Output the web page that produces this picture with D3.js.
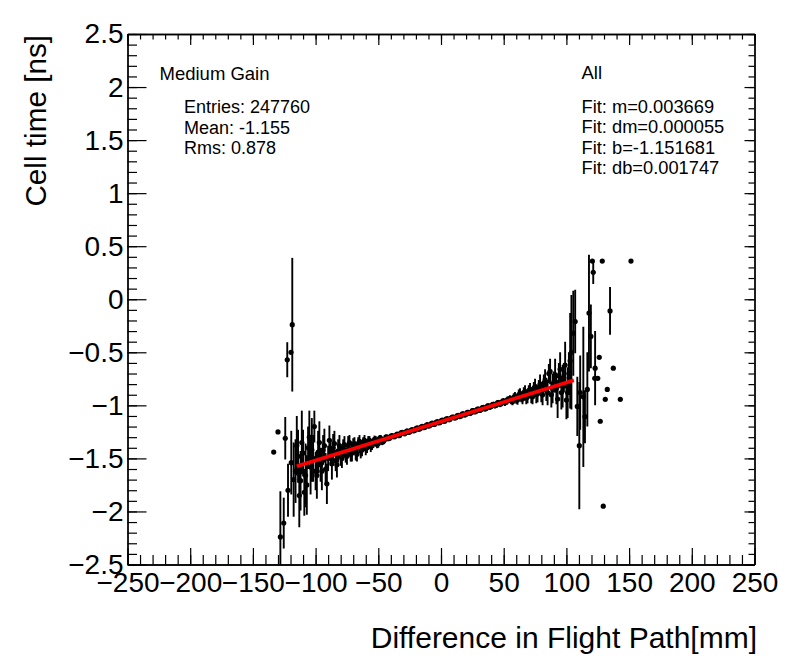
<!DOCTYPE html>
<html><head><meta charset="utf-8">
<script src="https://cdn.jsdelivr.net/npm/d3@7"></script>
<style>body{margin:0;background:#fff}text{font-family:"Liberation Sans",Arial,Helvetica,sans-serif}</style>
</head><body><svg id="c" width="796" height="672"></svg>
<script>
// ---- data ----
const pointX = [
 -133.4,-130,-128.1,-125.4,-124.2,-122.6,-122,-119.6,-118.6,-119.4,-117.5,
 -116,-115,-114,-113,-112,-111,-110,-109,-108,-107,-106,-105,-104,-103,-102,-101,-100,-99,-98,-97,-96,-95,-94,-93,-92,-91,-90,-89,-88,-87,-86,-85,-84,-83,-82,-81,-80,
 -79,-78,-77,-76,-75,-74,-73,-72,-71,-70,-69,-68,-67,-66,-65,-64,-63,-62,-61,-60,-59,-58,-57,-56,-55,-54,-53,-52,-51,-50,-49,-48,-47,-46,
 -45,-44,-43,-42,-41,-40,-39,-38,-37,-36,-35,-34,-33,-32,-31,-30,-29,-28,-27,-26,-25,-24,-23,-22,-21,-20,-19,-18,-17,-16,-15,-14,-13,-12,-11,-10,-9,-8,-7,-6,-5,-4,-3,-2,-1,
 0,1,2,3,4,5,6,7,8,9,10,11,12,13,14,15,16,17,18,19,20,21,22,23,24,25,26,27,28,29,30,31,32,33,34,35,36,37,38,39,40,41,42,43,44,45,46,47,48,49,50,51,52,53,54,
 55,56,57,58,59,60,61,62,63,64,65,66,67,68,69,70,71,72,73,74,75,76,77,78,79,80,81,82,83,84,85,86,87,88,89,90,91,92,93,94,95,96,97,98,99,100,101,102,103,104,105.5,107,
 108.7,110.3,111,113.5,114.8,116.7,118,119.5,121.4,120.7,122.9,122.6,125,126.2,127,128.6,129.4,131,132.6,134.8,137.4,143,151.5
];
const pointY = [
 -1.44,-1.25,-2.24,-2.11,-1.31,-0.57,-1.80,-0.50,-0.24,-1.54,-1.70,
 -1.62,-1.38,-1.48,-1.85,-1.71,-1.35,-1.45,-1.82,-1.66,-1.75,-1.40,-1.30,-1.58,-1.42,-1.50,-1.20,-1.62,-1.66,-1.44,-1.35,-1.56,-1.62,-1.42,-1.38,-1.60,-1.74,-1.50,-1.33,-1.45,-1.55,-1.40,-1.36,-1.52,-1.56,-1.43,-1.38,-1.48,
 -1.50,-1.40,-1.37,-1.47,-1.48,-1.38,-1.35,-1.46,-1.45,-1.37,-1.36,-1.44,-1.46,-1.36,-1.34,-1.43,-1.42,-1.35,-1.33,-1.41,-1.40,-1.34,-1.33,-1.39,-1.38,-1.36,-1.32,-1.33,-1.37,-1.36,-1.31,-1.31,-1.345,-1.34,
 -1.325,-1.300,-1.300,-1.315,-1.310,-1.290,-1.285,-1.295,-1.295,-1.280,-1.270,-1.285,-1.285,-1.260,-1.255,-1.265,-1.268,-1.250,-1.240,-1.255,-1.252,-1.235,-1.228,-1.240,-1.238,-1.220,-1.212,-1.225,-1.222,-1.205,-1.198,-1.210,-1.208,-1.190,-1.182,-1.195,-1.192,-1.175,-1.168,-1.180,-1.178,-1.160,-1.154,-1.165,-1.163,
 -1.145,-1.140,-1.150,-1.150,-1.130,-1.125,-1.135,-1.134,-1.120,-1.110,-1.110,-1.120,-1.115,-1.096,-1.095,-1.106,-1.100,-1.080,-1.080,-1.092,-1.085,-1.066,-1.065,-1.076,-1.070,-1.050,-1.050,-1.062,-1.055,-1.036,-1.035,-1.048,-1.040,-1.022,-1.020,-1.034,-1.030,-1.006,-1.005,-1.018,-1.010,-0.992,-0.990,-1.004,-1.000,-0.976,-0.975,-0.990,-0.985,-0.962,-0.960,-0.976,-0.970,-0.946,-0.945,
 -0.935,-0.96,-0.965,-0.925,-0.915,-0.95,-0.95,-0.90,-0.89,-0.93,-0.94,-0.88,-0.87,-0.93,-0.92,-0.86,-0.85,-0.91,-0.92,-0.84,-0.82,-0.90,-0.89,-0.83,-0.80,-0.88,-0.90,-0.79,-0.76,-0.86,-0.88,-0.70,-0.68,-0.90,-0.84,-0.78,-0.72,-0.84,-0.94,-0.72,-0.66,-0.88,-0.82,-0.74,-0.62,-0.95,-0.88,-0.70,-0.58,-0.50,-0.32,-0.21,
 -1.01,-1.38,-0.88,-0.92,-1.107,-0.85,-0.13,-0.35,0.254,0.36,-0.65,-0.745,-0.745,-0.547,-1.15,0.36,-1.95,-0.943,-0.85,-0.11,-0.65,-0.943,0.36
];
const pointErr = [
 0,0,0.43,0.24,0.20,0.165,0.25,0,0.63,0.30,0.35,
 0.30,0.28,0.25,0.30,0.28,0.30,0.22,0.22,0.30,0.28,0.20,0.25,0.26,0.30,0.22,0.15,0.18,0.22,0.20,0.20,0.16,0.18,0.14,0.16,0.15,0.19,0.12,0.14,0.12,0.15,0.13,0.12,0.10,0.12,0.11,0.10,0.09,
 0.09,0.08,0.08,0.07,0.08,0.09,0.07,0.07,0.08,0.06,0.06,0.08,0.07,0.06,0.06,0.07,0.06,0.05,0.05,0.06,0.05,0.05,0.04,0.05,0.04,0.04,0.035,0.04,0.035,0.04,0.03,0.03,0.03,0.03,
 0.026,0.025,0.024,0.022,0.021,0.020,0.021,0.022,0.019,0.018,0.019,0.020,0.018,0.017,0.018,0.019,0.017,0.016,0.017,0.018,0.016,0.015,0.016,0.017,0.015,0.015,0.016,0.016,0.015,0.014,0.015,0.015,0.014,0.014,0.015,0.015,0.014,0.013,0.014,0.014,0.013,0.013,0.014,0.014,0.013,
 0.013,0.014,0.014,0.013,0.013,0.014,0.014,0.014,0.014,0.015,0.015,0.015,0.014,0.016,0.016,0.016,0.015,0.017,0.017,0.017,0.016,0.018,0.018,0.018,0.017,0.019,0.019,0.019,0.018,0.020,0.020,0.020,0.019,0.021,0.021,0.022,0.020,0.023,0.022,0.023,0.021,0.024,0.024,0.025,0.022,0.026,0.026,0.027,0.024,0.028,0.028,0.029,0.026,0.030,0.030,
 0.03,0.03,0.035,0.04,0.04,0.035,0.045,0.05,0.05,0.04,0.05,0.05,0.06,0.06,0.06,0.05,0.06,0.07,0.07,0.06,0.07,0.08,0.08,0.07,0.09,0.09,0.10,0.08,0.10,0.10,0.12,0.09,0.12,0.12,0.14,0.10,0.16,0.15,0.18,0.12,0.16,0.16,0.20,0.14,0.22,0.18,0.24,0.20,0.45,0.54,0.40,0.30,
 0.28,0.60,0.35,0.66,0.25,0.35,0.55,0.30,0.11,0,0.35,0,0,0,0,0,0,0,0,0.225,0,0,0
];
const fitM = 0.003669, fitB = -1.151681;
const fitRange = [-115, 106];
const xTicks = [-250,-200,-150,-100,-50,0,50,100,150,200,250];
const xTickLabels = ["\u2212250","\u2212200","\u2212150","\u2212100","\u221250","0","50","100","150","200","250"];
const yTicks = [-2.5,-2,-1.5,-1,-0.5,0,0.5,1,1.5,2,2.5];
const yTickLabels = ["\u22122.5","\u22122","\u22121.5","\u22121","\u22120.5","0","0.5","1","1.5","2","2.5"];
const statsLeft = ["Entries: 247760","Mean: -1.155","Rms: 0.878"];
const statsRight = ["Fit: m=0.003669","Fit: dm=0.000055","Fit: b=-1.151681","Fit: db=0.001747"];

// ---- drawing ----
const L=127.5, R=754.5, T=34, B=564.5;
const svg = d3.select("#c");
const x = d3.scaleLinear().domain([-250,250]).range([L,R]);
const y = d3.scaleLinear().domain([-2.5,2.5]).range([B,T]);
const xMinor = d3.range(-250,251,10), yMinor = d3.range(-25,26,1).map(v=>v/10);
const FF = '"Liberation Sans",Arial,Helvetica,sans-serif';

function styleAxis(g){ g.select(".domain").attr("stroke","#000").attr("stroke-width",1.3); g.selectAll(".tick line").attr("stroke","#000").attr("stroke-width",1.2); }

// bottom
svg.append("g").attr("transform",`translate(0,${B})`)
  .call(d3.axisBottom(x).tickValues(xMinor).tickSize(-9.5).tickSizeOuter(0).tickFormat("")).call(styleAxis);
svg.append("g").attr("transform",`translate(0,${B})`)
  .call(d3.axisBottom(x).tickValues(xTicks).tickSize(-16.5).tickSizeOuter(0).tickPadding(7.5).tickFormat((d,i)=>xTickLabels[i]))
  .call(styleAxis).call(g=>g.selectAll("text").attr("font-size",28).attr("fill","#000").attr("font-family",FF));
// top
svg.append("g").attr("transform",`translate(0,${T})`)
  .call(d3.axisTop(x).tickValues(xMinor).tickSize(-5.5).tickSizeOuter(0).tickFormat("")).call(styleAxis);
svg.append("g").attr("transform",`translate(0,${T})`)
  .call(d3.axisTop(x).tickValues(xTicks).tickSize(-11).tickSizeOuter(0).tickFormat("")).call(styleAxis);
// left
svg.append("g").attr("transform",`translate(${L},0)`)
  .call(d3.axisLeft(y).tickValues(yMinor).tickSize(-9.5).tickSizeOuter(0).tickFormat("")).call(styleAxis);
svg.append("g").attr("transform",`translate(${L},0)`)
  .call(d3.axisLeft(y).tickValues(yTicks).tickSize(-19).tickSizeOuter(0).tickPadding(4).tickFormat((d,i)=>yTickLabels[i]))
  .call(styleAxis).call(g=>g.selectAll("text").attr("font-size",28).attr("fill","#000").attr("font-family",FF));
// right
svg.append("g").attr("transform",`translate(${R},0)`)
  .call(d3.axisRight(y).tickValues(yMinor).tickSize(-6).tickSizeOuter(0).tickFormat("")).call(styleAxis);
svg.append("g").attr("transform",`translate(${R},0)`)
  .call(d3.axisRight(y).tickValues(yTicks).tickSize(-10).tickSizeOuter(0).tickFormat("")).call(styleAxis);

// clip
svg.append("clipPath").attr("id","clip").append("rect").attr("x",L).attr("y",T).attr("width",R-L).attr("height",B-T);
const plot = svg.append("g").attr("clip-path","url(#clip)");
const pts = pointX.map((v,i)=>({x:v,y:pointY[i],e:pointErr[i]}));
plot.selectAll("line.err").data(pts.filter(d=>d.e>0)).join("line").attr("class","err")
  .attr("x1",d=>x(d.x)).attr("x2",d=>x(d.x)).attr("y1",d=>y(d.y-d.e)).attr("y2",d=>y(d.y+d.e))
  .attr("stroke","#000").attr("stroke-width",1.9);
plot.selectAll("circle").data(pts).join("circle")
  .attr("cx",d=>x(d.x)).attr("cy",d=>y(d.y)).attr("r",2.6).attr("fill","#000");
plot.append("line").attr("x1",x(fitRange[0])).attr("x2",x(fitRange[1]))
  .attr("y1",y(fitM*fitRange[0]+fitB)).attr("y2",y(fitM*fitRange[1]+fitB))
  .attr("stroke","#ff0000").attr("stroke-width",3.6);

// texts
svg.append("text").attr("x",159.5).attr("y",80).attr("font-size",18.5).text("Medium Gain");
statsLeft.forEach((t,i)=>svg.append("text").attr("x",184).attr("y",113+i*20.5).attr("font-size",18).text(t));
svg.append("text").attr("x",581.5).attr("y",78.5).attr("font-size",18.5).text("All");
statsRight.forEach((t,i)=>svg.append("text").attr("x",581.5).attr("y",112.5+i*20.6).attr("font-size",18.3).text(t));

// axis titles
svg.append("text").attr("x",757).attr("y",648).attr("text-anchor","end").attr("font-size",30).text("Difference in Flight Path[mm]");
svg.append("text").attr("transform","translate(46,35) rotate(-90)").attr("text-anchor","end").attr("font-size",29.7).text("Cell time [ns]");
</script></body></html>
